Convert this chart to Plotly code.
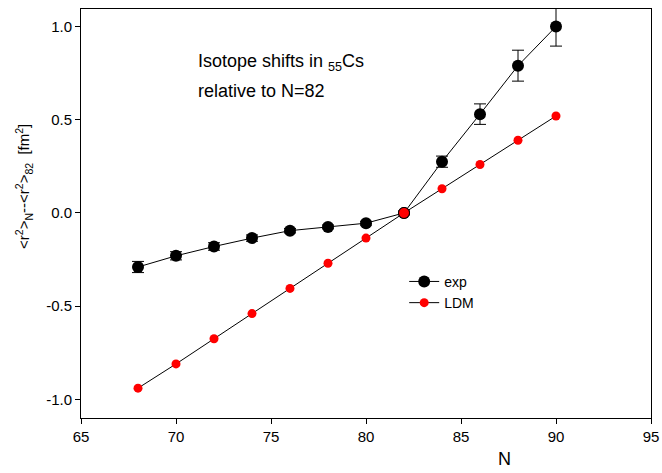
import plotly.graph_objects as go

N = [68, 70, 72, 74, 76, 78, 80, 82, 84, 86, 88, 90]
exp_vals = [-0.29, -0.23, -0.18, -0.135, -0.095, -0.075, -0.055, 0.0, 0.275, 0.53, 0.79, 1.0]
exp_err = [0.03, 0.022, 0.02, 0.017, 0.012, 0.01, 0.01, 0.01, 0.03, 0.055, 0.083, 0.105]
ldm_vals = [-0.94, -0.81, -0.675, -0.54, -0.405, -0.27, -0.135, 0.0, 0.13, 0.26, 0.39, 0.52]
ref_N = [82]
ref_val = [0.0]

xticks = [65, 70, 75, 80, 85, 90, 95]
yticks = [-1.0, -0.5, 0.0, 0.5, 1.0]

font = "Liberation Sans, Arial, sans-serif"

fig = go.Figure()
fig.add_trace(go.Scatter(
    x=N, y=exp_vals, name="exp", mode="lines+markers",
    line=dict(color="black", width=1),
    marker=dict(color="black", size=12),
    error_y=dict(type="data", array=exp_err, color="black", thickness=1, width=6),
))
fig.add_trace(go.Scatter(
    x=N, y=ldm_vals, name="LDM", mode="lines+markers",
    line=dict(color="black", width=1),
    marker=dict(color="red", size=9),
))
fig.add_trace(go.Scatter(
    x=ref_N, y=ref_val, mode="markers", showlegend=False, hoverinfo="skip",
    marker=dict(color="red", size=11, line=dict(color="black", width=1)),
))

W, H = 662, 473
L, T = 81, 9
PW, PH = 570, 409

fig.update_layout(
    width=W, height=H,
    margin=dict(l=L, r=W - L - PW, t=T, b=H - T - PH, autoexpand=False),
    paper_bgcolor="white", plot_bgcolor="white",
    font=dict(family=font, size=15, color="black"),
    showlegend=True,
    legend=dict(x=0.567, y=0.372, xanchor="left", yanchor="top",
                bgcolor="rgba(0,0,0,0)", font=dict(size=14),
                itemwidth=30, tracegroupgap=0),
    xaxis=dict(range=[65, 95], tickvals=xticks, ticktext=[str(v) for v in xticks],
               showgrid=False, zeroline=False, showline=True, linecolor="black",
               linewidth=1, mirror=True, ticks="outside", ticklen=5,
               tickcolor="black", automargin=False),
    yaxis=dict(range=[-1.10, 1.094], tickvals=yticks,
               ticktext=["-1.0", "-0.5", "0.0", "0.5", "1.0"],
               showgrid=False, zeroline=False, showline=True, linecolor="black",
               linewidth=1, mirror=True, ticks="outside", ticklen=5,
               tickcolor="black", automargin=False),
)

fig.add_annotation(
    x=-0.1, y=0.565, xref="paper", yref="paper", showarrow=False, textangle=-90,
    text="<r<sup>2</sup>><sub>N</sub>--<r<sup>2</sup>><sub>82</sub>  [fm<sup>2</sup>]",
    font=dict(size=15, family=font), xanchor="center", yanchor="middle",
)
fig.add_annotation(
    x=(196 - 81) / PW, y=0.870, xref="paper", yref="paper", xanchor="left", yanchor="middle",
    text="Isotope shifts in <sub>55</sub>Cs",
    showarrow=False, align="left", font=dict(size=18, family=font),
)
fig.add_annotation(
    x=(196 - 81) / PW, y=0.80, xref="paper", yref="paper", xanchor="left", yanchor="middle",
    text="relative to N=82",
    showarrow=False, align="left", font=dict(size=18, family=font),
)
fig.add_annotation(
    x=(513 - 81) / PW, y=-(471 - 418) / PH, xref="paper", yref="paper", showarrow=False,
    text="N", font=dict(size=18, family=font), yanchor="bottom",
)

fig.write_html("out.html", config={"displayModeBar": False},
               post_script="document.body.style.margin='0';")
